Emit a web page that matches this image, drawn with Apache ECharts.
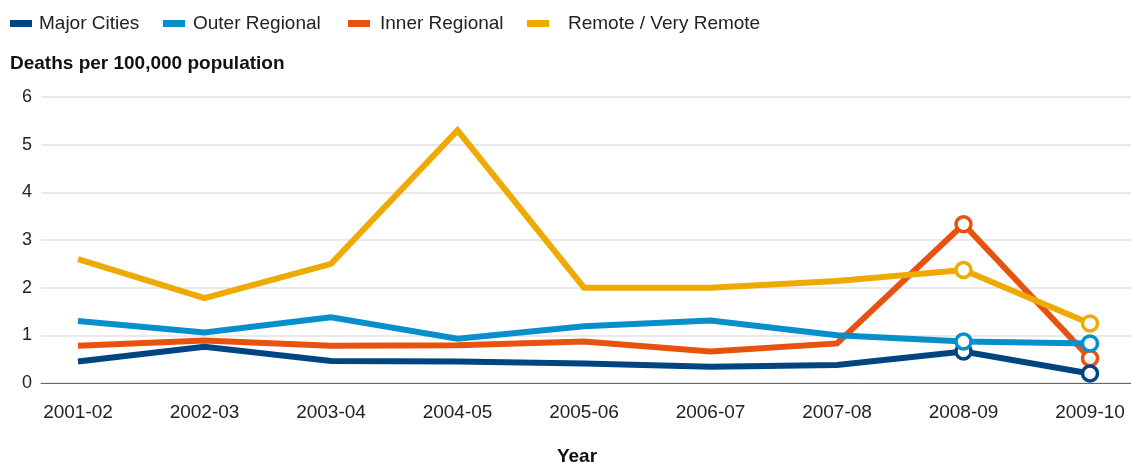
<!DOCTYPE html>
<html>
<head>
<meta charset="utf-8">
<script src="https://cdn.jsdelivr.net/npm/echarts@6/dist/echarts.min.js"></script>
<style>
  html, body { margin: 0; padding: 0; background: #fff; }
  #chart { width: 1131px; height: 462px; }
</style>
</head>
<body>
<div id="chart"></div>
<script>
// years on the x axis
const years = ['2001-02', '2002-03', '2003-04', '2004-05', '2005-06', '2006-07', '2007-08', '2008-09', '2009-10']
// deaths per 100,000 population
const majorCities = [0.45, 0.76, 0.46, 0.45, 0.41, 0.34, 0.38, 0.66, 0.2]
const outerRegional = [1.3, 1.06, 1.38, 0.93, 1.19, 1.31, 1.0, 0.87, 0.83]
const innerRegional = [0.78, 0.89, 0.78, 0.79, 0.87, 0.66, 0.83, 3.33, 0.52]
const remote = [2.6, 1.78, 2.5, 5.3, 2.0, 2.0, 2.14, 2.37, 1.25]
const yTicks = [0, 1, 2, 3, 4, 5, 6]

const FONT = '"Liberation Sans", Arial, Helvetica, sans-serif'
const colors = {
  'Major Cities': '#004581',
  'Outer Regional': '#078fcc',
  'Inner Regional': '#e8520f',
  'Remote / Very Remote': '#eeaa00'
}

const chart = echarts.init(document.getElementById('chart'))

// only the last two years get an open circle marker
function makeData (values) {
  return values.map((v, i) => {
    if (i >= values.length - 2) {
      return { value: [i, v] }
    }
    return { value: [i, v], symbol: 'none' }
  })
}

function makeSeries (name, values) {
  return {
    name: name,
    type: 'line',
    data: makeData(values),
    symbol: 'circle',
    symbolSize: 15,
    showSymbol: true,
    lineStyle: { width: 6, color: colors[name], join: 'miter' },
    itemStyle: { color: '#fff', borderColor: colors[name], borderWidth: 3.5 },
    emphasis: { disabled: true },
    animation: false
  }
}

// one legend per item so the spacing can follow the reference
function makeLegend (name, left, gap) {
  return {
    data: [{ name: name, itemStyle: { color: colors[name], borderWidth: 0 } }],
    left: left,
    top: 14,
    padding: 0,
    icon: 'rect',
    itemWidth: 22,
    itemHeight: 7,
    itemGap: 0,
    textStyle: { fontFamily: FONT, fontSize: 19, color: '#222', padding: [0, 0, 0, gap] },
    selectedMode: false
  }
}

const option = {
  backgroundColor: '#fff',
  title: [
    {
      text: 'Deaths per 100,000 population',
      left: 10,
      top: 54,
      padding: 0,
      textStyle: { fontFamily: FONT, fontSize: 19, fontWeight: 'bold', color: '#111' }
    },
    {
      text: 'Year',
      left: 577,
      top: 447,
      padding: 0,
      textAlign: 'center',
      textStyle: { fontFamily: FONT, fontSize: 19, fontWeight: 'bold', color: '#111' }
    }
  ],
  legend: [
    makeLegend('Major Cities', 10, 2),
    makeLegend('Outer Regional', 163, 3),
    makeLegend('Inner Regional', 348, 5),
    makeLegend('Remote / Very Remote', 527, 14)
  ],
  grid: { left: 41, right: 0, top: 97, bottom: 79, containLabel: false },
  xAxis: {
    type: 'value',
    min: -0.2925,
    max: 8.324,
    axisLine: { show: true, onZero: false, lineStyle: { color: '#666', width: 1 } },
    axisTick: { show: false },
    splitLine: { show: false },
    axisLabel: {
      customValues: years.map((y, i) => i),
      formatter: v => years[Math.round(v)],
      margin: 20,
      fontFamily: FONT,
      fontSize: 19,
      color: '#222'
    }
  },
  yAxis: {
    type: 'value',
    min: 0,
    max: 6,
    interval: 1,
    axisLine: { show: false },
    axisTick: { show: false },
    splitLine: { lineStyle: { color: '#e2e2e2', width: 1.5 } },
    axisLabel: {
      customValues: yTicks,
      margin: 9,
      fontFamily: FONT,
      fontSize: 18,
      color: '#222'
    }
  },
  series: [
    makeSeries('Inner Regional', innerRegional),
    makeSeries('Remote / Very Remote', remote),
    makeSeries('Major Cities', majorCities),
    makeSeries('Outer Regional', outerRegional)
  ]
}

chart.setOption(option)
</script>
</body>
</html>
